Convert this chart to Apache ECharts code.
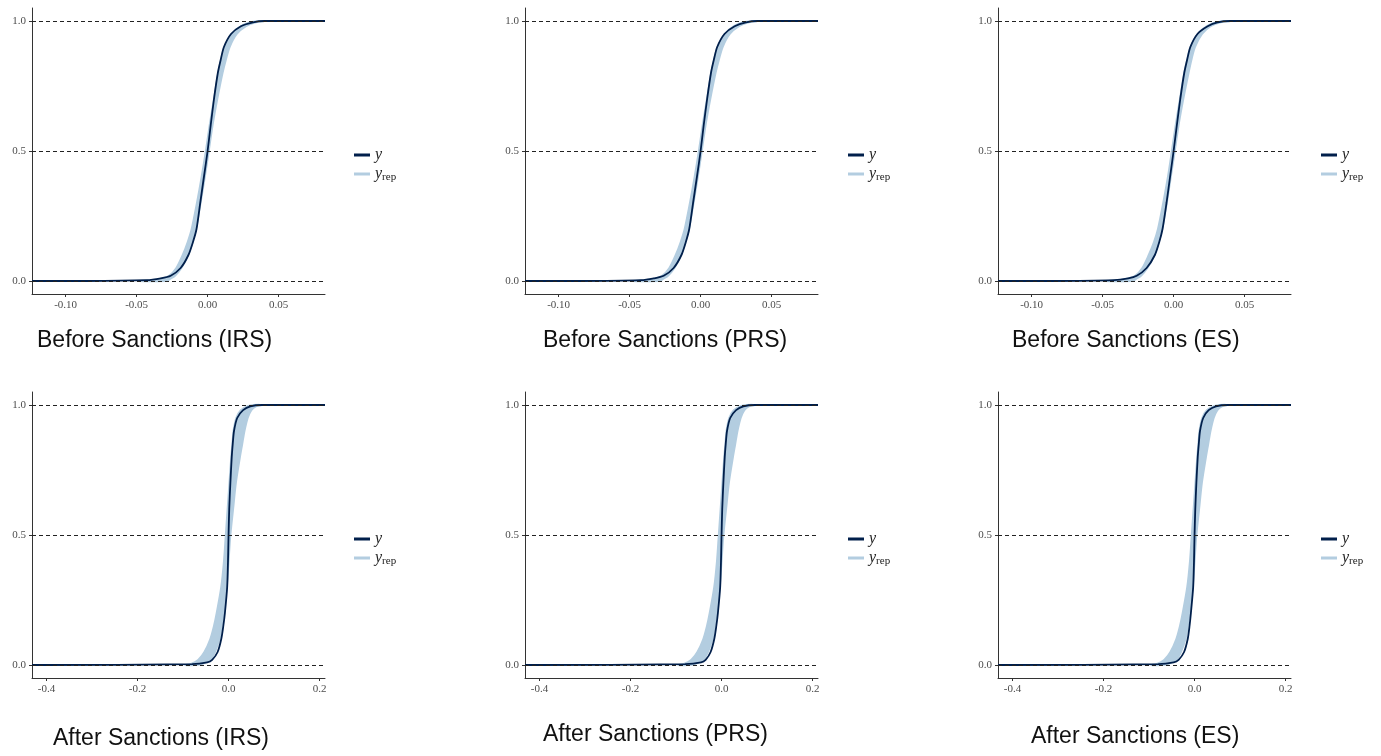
<!doctype html>
<html>
<head>
<meta charset="utf-8">
<title>ECDF posterior predictive checks</title>
<script src="https://cdn.jsdelivr.net/npm/echarts@6/dist/echarts.min.js"></script>
<style>
  html, body { margin: 0; padding: 0; background: #fff; }
  #container { width: 1381px; height: 756px; }
</style>
</head>
<body>
<div id="container"></div>
<script>
var ecdfLevels = [0, 0.003, 0.01, 0.02, 0.05, 0.1, 0.15, 0.2, 0.3, 0.4, 0.5, 0.6, 0.7, 0.8, 0.85, 0.9, 0.95, 0.98, 0.995, 1];

// x value of the observed ECDF (y) at each level
var beforeIRS_y = [-0.085, -0.043, -0.033, -0.026, -0.019, -0.0135, -0.0103, -0.0078, -0.0052, -0.0026, 0.0, 0.0022, 0.0045, 0.0072, 0.0092, 0.0115, 0.0165, 0.0235, 0.032, 0.040];
var beforePRS_y = [-0.085, -0.042, -0.033, -0.026, -0.019, -0.0135, -0.0104, -0.0080, -0.0053, -0.0026, 0.0, 0.0022, 0.0046, 0.0073, 0.0093, 0.0117, 0.0168, 0.0240, 0.032, 0.040];
var beforeES_y  = [-0.085, -0.042, -0.032, -0.026, -0.019, -0.0132, -0.0101, -0.0078, -0.0050, -0.0025, 0.0, 0.0023, 0.0047, 0.0075, 0.0095, 0.0118, 0.0168, 0.0240, 0.031, 0.040];
var afterIRS_y  = [-0.41, -0.08, -0.047, -0.036, -0.024, -0.016, -0.0115, -0.008, -0.003, -0.0012, 0.0, 0.0015, 0.004, 0.007, 0.0092, 0.012, 0.019, 0.032, 0.048, 0.074];
var afterPRS_y  = [-0.41, -0.08, -0.045, -0.035, -0.024, -0.016, -0.0115, -0.008, -0.003, -0.0012, 0.0, 0.0015, 0.004, 0.007, 0.0092, 0.012, 0.019, 0.032, 0.048, 0.074];
var afterES_y   = [-0.41, -0.08, -0.046, -0.035, -0.023, -0.015, -0.0110, -0.008, -0.003, -0.0012, 0.0, 0.0016, 0.004, 0.007, 0.0093, 0.012, 0.019, 0.031, 0.047, 0.073];

// left / right edges of the replicated (yrep) ECDF bundle at each level
var beforeIRS_lo = [-0.048, -0.040, -0.032, -0.027, -0.022, -0.0175, -0.0140, -0.0112, -0.0075, -0.0042, -0.0012, 0.0015, 0.0045, 0.0075, 0.0095, 0.012, 0.017, 0.0235, 0.030, 0.038];
var beforeIRS_hi = [-0.030, -0.028, -0.026, -0.023, -0.0185, -0.0138, -0.0108, -0.0082, -0.0050, -0.0020, 0.0008, 0.0035, 0.0068, 0.0105, 0.0128, 0.0155, 0.0205, 0.027, 0.034, 0.040];
var beforePRS_lo = [-0.048, -0.040, -0.032, -0.027, -0.022, -0.0175, -0.0140, -0.0112, -0.0075, -0.0042, -0.0012, 0.0015, 0.0045, 0.0075, 0.0095, 0.012, 0.017, 0.0235, 0.030, 0.038];
var beforePRS_hi = [-0.030, -0.028, -0.026, -0.023, -0.0185, -0.0138, -0.0108, -0.0082, -0.0050, -0.0020, 0.0008, 0.0035, 0.0068, 0.0105, 0.0128, 0.0155, 0.0205, 0.027, 0.034, 0.040];
var beforeES_lo  = [-0.048, -0.040, -0.032, -0.027, -0.022, -0.0175, -0.0138, -0.0110, -0.0073, -0.0040, -0.0012, 0.0015, 0.0045, 0.0075, 0.0095, 0.012, 0.017, 0.0235, 0.030, 0.038];
var beforeES_hi  = [-0.030, -0.028, -0.026, -0.023, -0.0185, -0.0135, -0.0105, -0.0080, -0.0048, -0.0020, 0.0008, 0.0035, 0.0068, 0.0105, 0.0125, 0.0150, 0.0200, 0.026, 0.033, 0.040];
var afterIRS_lo  = [-0.095, -0.085, -0.075, -0.066, -0.053, -0.040, -0.032, -0.026, -0.016, -0.010, -0.006, -0.002, 0.002, 0.006, 0.0085, 0.011, 0.017, 0.027, 0.042, 0.055];
var afterIRS_hi  = [-0.075, -0.060, -0.050, -0.040, -0.030, -0.020, -0.015, -0.011, -0.004, 0.000, 0.004, 0.010, 0.016, 0.025, 0.030, 0.035, 0.042, 0.050, 0.060, 0.072];
var afterPRS_lo  = [-0.095, -0.085, -0.075, -0.066, -0.053, -0.040, -0.032, -0.026, -0.016, -0.010, -0.006, -0.002, 0.002, 0.006, 0.0085, 0.011, 0.017, 0.027, 0.042, 0.055];
var afterPRS_hi  = [-0.075, -0.060, -0.050, -0.040, -0.030, -0.020, -0.015, -0.011, -0.004, 0.000, 0.004, 0.010, 0.016, 0.025, 0.030, 0.035, 0.042, 0.050, 0.060, 0.072];
var afterES_lo   = [-0.095, -0.085, -0.075, -0.066, -0.053, -0.040, -0.032, -0.026, -0.016, -0.010, -0.006, -0.002, 0.002, 0.006, 0.0085, 0.011, 0.017, 0.027, 0.042, 0.055];
var afterES_hi   = [-0.075, -0.060, -0.050, -0.040, -0.030, -0.020, -0.015, -0.011, -0.004, 0.000, 0.004, 0.010, 0.016, 0.025, 0.030, 0.035, 0.042, 0.050, 0.060, 0.072];

// tick labels
var xTicksBefore = [-0.10, -0.05, 0, 0.05];
var xTicksAfter = [-0.4, -0.2, 0, 0.2];
var yTicks = [0, 0.5, 1];
var refLines = [0, 0.5, 1];

var titles = ['Before Sanctions (IRS)', 'Before Sanctions (PRS)', 'Before Sanctions (ES)',
              'After Sanctions (IRS)', 'After Sanctions (PRS)', 'After Sanctions (ES)'];

// layout
var colLeft = [32, 525, 998];
var colWidth = 293;
var rowTop = [8, 392];
var rowHeight = 286;
var legendLeft = [349, 843, 1316];
var legendTop = [142, 526];
var titlePos = [[37, 341], [543, 341], [1012, 341], [53, 739], [543, 735], [1031, 737]];
var xRange = [[-0.1237, 0.0827], [-0.432, 0.212]];

var darkCol = '#011f4b';
var lightCol = '#b3cde0';

var panels = [
  { row: 0, col: 0, y: beforeIRS_y, lo: beforeIRS_lo, hi: beforeIRS_hi },
  { row: 0, col: 1, y: beforePRS_y, lo: beforePRS_lo, hi: beforePRS_hi },
  { row: 0, col: 2, y: beforeES_y,  lo: beforeES_lo,  hi: beforeES_hi },
  { row: 1, col: 0, y: afterIRS_y,  lo: afterIRS_lo,  hi: afterIRS_hi },
  { row: 1, col: 1, y: afterPRS_y,  lo: afterPRS_lo,  hi: afterPRS_hi },
  { row: 1, col: 2, y: afterES_y,   lo: afterES_lo,   hi: afterES_hi }
];

var axisFont = { fontFamily: 'Liberation Serif', fontSize: 11, color: '#4d4d4d' };

var grid = [], xAxis = [], yAxis = [], series = [], legend = [], graphic = [];

function bandRenderer(lo, hi) {
  return function (params, api) {
    if (params.dataIndex !== 0) return;
    var pts = [];
    for (var i = 0; i < ecdfLevels.length; i++) pts.push(api.coord([lo[i], ecdfLevels[i]]));
    for (var j = ecdfLevels.length - 1; j >= 0; j--) pts.push(api.coord([hi[j], ecdfLevels[j]]));
    return {
      type: 'polygon',
      shape: { points: pts, smooth: 0.3 },
      style: { fill: lightCol, stroke: lightCol, lineWidth: 2 }
    };
  };
}

panels.forEach(function (p, k) {
  var rng = xRange[p.row];
  var ticks = p.row === 0 ? xTicksBefore : xTicksAfter;
  var digits = p.row === 0 ? 2 : 1;

  grid.push({ left: colLeft[p.col], top: rowTop[p.row], width: colWidth, height: rowHeight });

  xAxis.push({
    type: 'value', gridIndex: k, min: rng[0], max: rng[1],
    axisLine: { show: true, onZero: false, lineStyle: { color: '#333', width: 1 } },
    axisTick: { show: true, length: 3, customValues: ticks, lineStyle: { color: '#333' } },
    axisLabel: Object.assign({ customValues: ticks, margin: 6,
      formatter: function (v) { return v.toFixed(digits); } }, axisFont),
    splitLine: { show: false }
  });
  yAxis.push({
    type: 'value', gridIndex: k, min: -0.05, max: 1.05,
    axisLine: { show: true, onZero: false, lineStyle: { color: '#333', width: 1 } },
    axisTick: { show: true, length: 3, customValues: yTicks, lineStyle: { color: '#333' } },
    axisLabel: Object.assign({ customValues: yTicks, margin: 6,
      formatter: function (v) { return v.toFixed(1); } }, axisFont),
    splitLine: { show: false }
  });

  // dashed reference lines
  series.push({
    type: 'line', xAxisIndex: k, yAxisIndex: k, data: [], silent: true, z: 1,
    markLine: {
      silent: true, symbol: 'none', label: { show: false },
      lineStyle: { color: '#222', type: [4, 3], width: 1 },
      data: refLines.map(function (v) { return { yAxis: v }; })
    }
  });

  // replicated ECDF bundle
  series.push({
    type: 'custom', name: 'yrep', xAxisIndex: k, yAxisIndex: k, z: 2,
    itemStyle: { color: lightCol },
    renderItem: bandRenderer(p.lo, p.hi),
    data: [[0, 0.5]], silent: true
  });

  // observed ECDF
  var pts = [[rng[0], 0]];
  ecdfLevels.forEach(function (f, i) { pts.push([p.y[i], f]); });
  pts.push([rng[1], 1]);
  series.push({
    type: 'line', name: 'y', xAxisIndex: k, yAxisIndex: k, z: 3,
    showSymbol: false, silent: true, smooth: 0.25,
    lineStyle: { color: darkCol, width: 1.8 },
    itemStyle: { color: darkCol },
    data: pts
  });

  legend.push({
    orient: 'vertical', left: legendLeft[p.col], top: legendTop[p.row],
    itemWidth: 16, itemHeight: 3, itemGap: 3, selectedMode: false,
    data: [
      { name: 'y', icon: 'rect', itemStyle: { color: darkCol } },
      { name: 'yrep', icon: 'rect', itemStyle: { color: lightCol } }
    ],
    formatter: function (n) { return n === 'y' ? '{it|y}' : '{it|y}{sub|rep}'; },
    textStyle: {
      rich: {
        it: { fontFamily: 'Liberation Serif', fontStyle: 'italic', fontSize: 16, lineHeight: 18, color: '#222' },
        sub: { fontFamily: 'Liberation Serif', fontSize: 11, lineHeight: 12, verticalAlign: 'bottom', color: '#222' }
      }
    }
  });

  graphic.push({
    type: 'text', x: titlePos[k][0], y: titlePos[k][1], silent: true,
    style: {
      text: titles[k], fill: '#111', fontFamily: 'Liberation Sans', fontSize: 23,
      verticalAlign: 'middle', align: 'left'
    }
  });
});

var myChart = echarts.init(document.getElementById('container'));
myChart.setOption({
  backgroundColor: '#fff',
  animation: false,
  grid: grid,
  xAxis: xAxis,
  yAxis: yAxis,
  legend: legend,
  graphic: graphic,
  series: series
});
</script>
</body>
</html>
